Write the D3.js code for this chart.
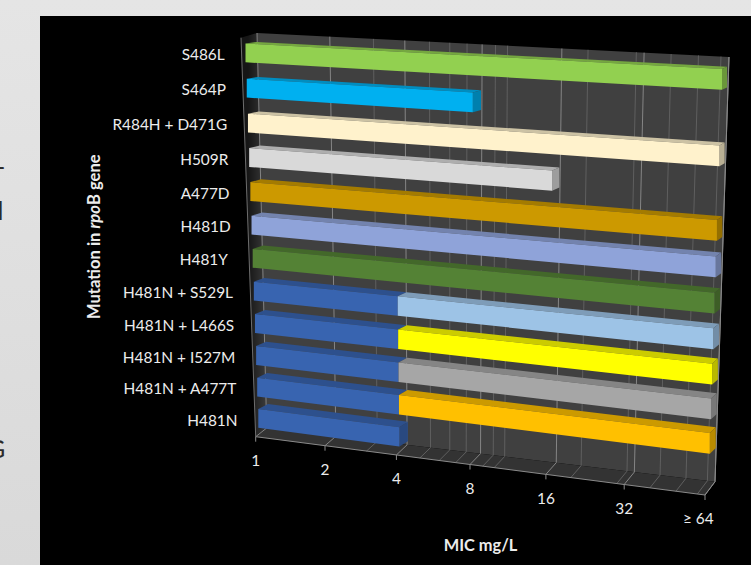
<!DOCTYPE html>
<html>
<head>
<meta charset="utf-8">
<script src="https://cdn.jsdelivr.net/npm/d3@7/dist/d3.min.js"></script>
<style>
  html, body { margin: 0; padding: 0; background: #e2e2e2; }
  svg { display: block; font-family: Lato, "Open Sans", sans-serif; }
</style>
</head>
<body>
<svg id="chart" width="751" height="565"></svg>
<script>
// Mutations in rpoB, listed from the rear bar down to the front bar
const categories = ["S486L", "S464P", "R484H + D471G", "H509R", "A477D", "H481D", "H481Y",
  "H481N + S529L", "H481N + L466S", "H481N + I527M", "H481N + A477T", "H481N"];
// MIC reached by the first segment of each bar
const firstSegmentMic = [64, 8, 64, 16, 64, 64, 64, 4, 4, 4, 4, 4];
// MIC reached by the second segment, where a double mutant has one
const secondSegmentMic = [null, null, null, null, null, null, null, 64, 64, 64, 64, null];
const firstSegmentColors = ["#92d050", "#00b0f0", "#fff2cc", "#d9d9d9", "#cc9900", "#8fa3d9",
  "#548235", "#3864b0", "#3864b0", "#3864b0", "#3864b0", "#3864b0"];
const secondSegmentColors = [null, null, null, null, null, null, null,
  "#9dc3e6", "#ffff00", "#a6a6a6", "#ffc000", null];
// Axis ticks and their text
const majorTicks = [1, 2, 4, 8, 16, 32, 64];
const tickLabels = ["1", "2", "4", "8", "16", "32", "\u2265 64"];
const minorTicks = [3, 5, 6, 7, 9, 10, 20, 30, 40, 50, 60];

const svg = d3.select("#chart");

const defs = svg.append("defs");
const pageFade = defs.append("linearGradient").attr("id", "pageFade")
  .attr("x1", 0).attr("x2", 0).attr("y1", 0).attr("y2", 1);
pageFade.append("stop").attr("offset", 0).attr("stop-color", "#e5e5e5");
pageFade.append("stop").attr("offset", 1).attr("stop-color", "#d9d9d9");
const sideWallFade = defs.append("linearGradient").attr("id", "sideWallFade")
  .attr("gradientUnits", "userSpaceOnUse")
  .attr("x1", 248).attr("x2", 266).attr("y1", 0).attr("y2", 0);
sideWallFade.append("stop").attr("offset", 0).attr("stop-color", "#161616");
sideWallFade.append("stop").attr("offset", 1).attr("stop-color", "#3a3a3a");

svg.append("rect").attr("width", 751).attr("height", 565).attr("fill", "url(#pageFade)");

// Ends of the slide's body text, cut off by the chart panel
const strayText = svg.append("g").attr("fill", "#2a2a2a").attr("font-size", 25);
strayText.append("text").attr("x", -4).attr("y", 176).text("-");
strayText.append("text").attr("x", -2.5).attr("y", 220).text("l");
strayText.append("text").attr("x", -13).attr("y", 458).text("G");

svg.append("rect").attr("x", 40).attr("y", 16).attr("width", 711).attr("height", 549).attr("fill", "#000");

// Log-2 value scale, then the foreshortening along the value axis
const micScale = d3.scaleLog().base(2).domain([1, 64]).range([0, 1]);
const foreshorten = (t, k) => k * t / (1 + (k - 1) * t);
const along = mic => foreshorten(micScale(mic), 0.912);
const rowScale = d3.scalePoint().domain(categories).range([0, 1]);
const down = name => foreshorten(rowScale(name), 1.069);

const mix = (a, b, t) => [a[0] + (b[0] - a[0]) * t, a[1] + (b[1] - a[1]) * t];

// Bilinear position on a quad given as topLeft, topRight, bottomLeft, bottomRight
const onQuad = (q, u, v) => mix(mix(q[0], q[1], u), mix(q[2], q[3], u), v);

const backWall = [[257, 33], [729, 57], [266.7, 428], [715, 481.7]];
const floor = [[266.7, 428], [715, 481.7], [255.7, 436.7], [705, 495]];
const sideWall = [[241, 37.7], [257, 33], [266.7, 428], [255.7, 436.7]];

// Planes holding the upper edge of each bar: first row to last row
const barFront = [[245.5, 43.5], [722, 69], [258.3, 409], [708.7, 467]];
const barBack = [[256.7, 42], [727, 66.7], [268, 404], [714.7, 461]];
const barHeight = u => 18.8 + 2 * u;

const polygon = d3.line();
const wallLayer = svg.append("g");
const addFace = (layer, points, fill) =>
  layer.append("path").attr("d", polygon(points) + "Z").attr("fill", fill);

addFace(wallLayer, backWall.slice(0, 2).concat([backWall[3], backWall[2]]), "#404040");
addFace(wallLayer, floor.slice(0, 2).concat([floor[3], floor[2]]), "#333333");
addFace(wallLayer, sideWall, "url(#sideWallFade)");

// Gridlines run up the back wall and forward across the floor
const gridLayer = svg.append("g").attr("fill", "none");
const drawGrid = (values, stroke) => {
  gridLayer.selectAll(null).data(values).join("path")
    .attr("stroke", stroke).attr("stroke-width", 1)
    .attr("d", mic => polygon([
      onQuad(backWall, along(mic), 0),
      onQuad(backWall, along(mic), 1),
      onQuad(floor, along(mic), 1)
    ]));
};
drawGrid(minorTicks, "#5f5f5f");
drawGrid(majorTicks, "#858585");

// Frame edges and the tick marks below the front of the floor
const edgeColor = "#8a8a8a";
gridLayer.append("path").attr("stroke", edgeColor)
  .attr("d", polygon([floor[2], floor[3], floor[1], backWall[1]]));
gridLayer.append("path").attr("stroke", "#6e6e6e")
  .attr("d", polygon([sideWall[0], sideWall[3]]));
gridLayer.selectAll(null).data(majorTicks).join("path")
  .attr("stroke", edgeColor)
  .attr("d", mic => {
    const p = onQuad(floor, along(mic), 1);
    return polygon([p, [p[0], p[1] + 5]]);
  });

// Bars, rear row first; each is a run of boxes with a shared end cap
const barLayer = svg.append("g");
const shade = (color, k) => d3.color(color).darker(k).formatHex();

const drawSegment = (name, from, to, color, capped) => {
  const r = down(name);
  const u0 = along(from), u1 = along(to);
  const h0 = barHeight(u0), h1 = barHeight(u1);
  const f0 = onQuad(barFront, u0, r), f1 = onQuad(barFront, u1, r);
  const b0 = onQuad(barBack, u0, r), b1 = onQuad(barBack, u1, r);
  addFace(barLayer, [b0, b1, f1, f0], shade(color, 0.62));
  if (capped) {
    addFace(barLayer, [f1, b1, [b1[0], b1[1] + h1], [f1[0], f1[1] + h1]], shade(color, 0.9));
  }
  addFace(barLayer, [f0, f1, [f1[0], f1[1] + h1], [f0[0], f0[1] + h0]], color);
};

categories.forEach((name, i) => {
  const second = secondSegmentMic[i];
  drawSegment(name, 1, firstSegmentMic[i], firstSegmentColors[i], second === null);
  if (second !== null) drawSegment(name, firstSegmentMic[i], second, secondSegmentColors[i], true);
});

// Category labels follow the slanted left edge of the bars
const labelInset = { "H481Y": 4 };
svg.append("g").attr("fill", "#ececec").attr("font-size", 15.4).attr("text-anchor", "end")
  .selectAll("text").data(categories).join("text")
  .attr("x", name => onQuad(barFront, 0, down(name))[0] - 20.8 - (labelInset[name] || 0))
  .attr("y", name => onQuad(barFront, 0, down(name))[1] + barHeight(0) / 2 + 1.8)
  .attr("dy", "0.35em")
  .text(name => name);

// Value labels hang below the front edge of the floor
svg.append("g").attr("fill", "#ececec").attr("font-size", 15.4).attr("text-anchor", "middle")
  .selectAll("text").data(majorTicks).join("text")
  .attr("x", mic => onQuad(floor, along(mic), 1)[0] - (mic === 64 ? 6.7 : 0))
  .attr("y", mic => onQuad(floor, along(mic), 1)[1] + 23.8)
  .attr("dy", "0.35em")
  .text((mic, i) => tickLabels[i]);

// Axis titles
svg.append("text").attr("x", 480.5).attr("y", 545).attr("dy", "0.35em")
  .attr("text-anchor", "middle").attr("fill", "#ececec")
  .attr("font-size", 16.4).attr("font-weight", 700).text("MIC mg/L");

const yTitle = svg.append("text")
  .attr("transform", "translate(94,236.7) rotate(-90)")
  .attr("dy", "0.35em").attr("text-anchor", "middle").attr("fill", "#ececec")
  .attr("font-size", 16.6).attr("font-weight", 700);
yTitle.append("tspan").text("Mutation in ");
yTitle.append("tspan").attr("font-style", "italic").text("rpo");
yTitle.append("tspan").text("B gene");
</script>
</body>
</html>
